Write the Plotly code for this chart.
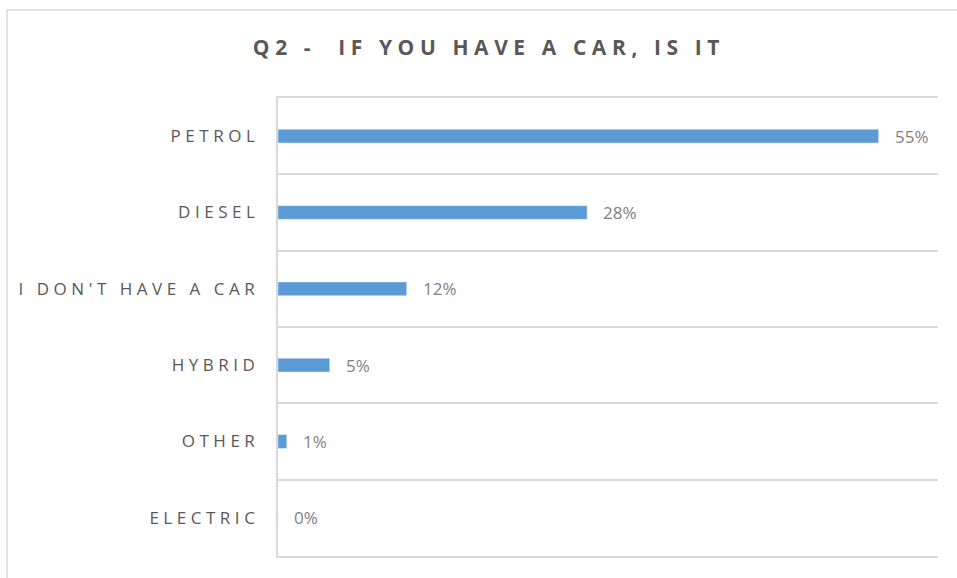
import plotly.graph_objects as go

# survey answers, top to bottom as shown
categories = ["PETROL", "DIESEL", "I DON'T HAVE A CAR", "HYBRID", "OTHER", "ELECTRIC"]
shares = [0.546, 0.281, 0.117, 0.047, 0.008, 0.0]

TITLE = "Q2 -  IF YOU HAVE A CAR, IS IT"
BAR_COLOR = "#5b9bd5"
GRID = "#d9d9d9"
TEXT = "#595959"
FONT = "Open Sans, Liberation Sans, sans-serif"


def spaced(text: str, gap: str = "\u2009\u200a") -> str:
    # fake the wide letter spacing of the original
    return gap.join(text)


fig = go.Figure(
    go.Bar(
        x=shares,
        y=categories,
        orientation="h",
        marker=dict(color=BAR_COLOR),
        hoverinfo="skip",
    )
)

for cat, val in zip(categories, shares):
    fig.add_annotation(
        x=val,
        y=cat,
        text=f"{val:.0%}",
        showarrow=False,
        xanchor="left",
        xshift=14,
        font=dict(family=FONT, size=17, color="#7f7f7f"),
    )

# outer chart frame (runs off the right and bottom edges)
fig.add_shape(
    type="rect",
    xref="paper",
    yref="paper",
    x0=-0.4106,
    y0=-0.06,
    x1=1.06,
    y1=1.192,
    line=dict(color=GRID, width=1.5),
    layer="below",
)

fig.update_layout(
    width=957,
    height=578,
    paper_bgcolor="white",
    plot_bgcolor="white",
    margin=dict(l=278, r=19, t=98, b=22),
    bargap=0.82,
    showlegend=False,
    title=dict(
        text=f"<b>{spaced(TITLE)}</b>",
        x=0.508,
        xanchor="center",
        y=0.918,
        yanchor="middle",
        font=dict(family=FONT, size=21, color=TEXT),
    ),
    xaxis=dict(
        range=[0, 0.6],
        showgrid=False,
        zeroline=False,
        showticklabels=False,
        showline=True,
        mirror=True,
        linecolor=GRID,
        linewidth=1.5,
    ),
    yaxis=dict(
        categoryorder="array",
        categoryarray=categories[::-1],
        tickvals=categories,
        ticktext=[spaced(c) for c in categories],
        tickson="boundaries",
        ticks="",
        showgrid=True,
        gridcolor=GRID,
        gridwidth=1.5,
        showline=True,
        linecolor=GRID,
        linewidth=1.5,
        ticklabelstandoff=18,
        tickfont=dict(family=FONT, size=17, color=TEXT),
    ),
)

fig.write_html(
    "out.html",
    config=dict(displayModeBar=False),
    post_script="document.body.style.margin = '0';",
)
